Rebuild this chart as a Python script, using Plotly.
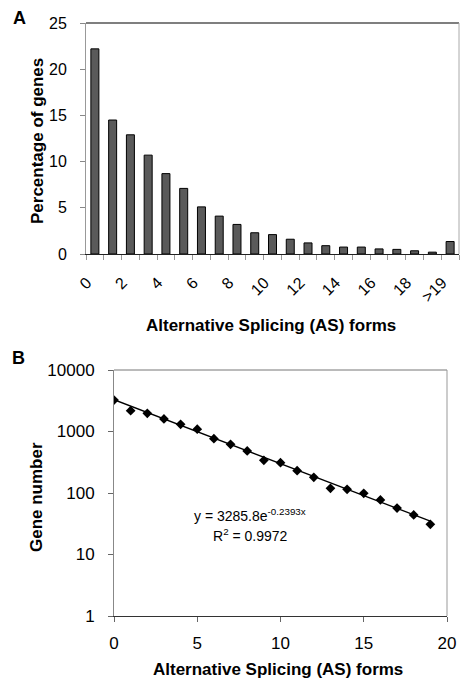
import math
import plotly.graph_objects as go

# ---- Panel A data ----
as_forms_a = list(range(21))
tick_positions_a = [0, 2, 4, 6, 8, 10, 12, 14, 16, 18, 20]
tick_labels_a = ["0", "2", "4", "6", "8", "10", "12", "14", "16", "18", ">19"]
pct_genes = [22.2, 14.5, 12.9, 10.7, 8.7, 7.1, 5.1, 4.1, 3.2, 2.3, 2.1,
             1.6, 1.2, 0.9, 0.75, 0.75, 0.55, 0.5, 0.35, 0.2, 1.35]

# ---- Panel B data ----
as_forms_b = list(range(20))
gene_number = [3250, 2180, 1980, 1600, 1310, 1090, 764, 620, 482, 340, 311,
               231, 180, 119, 115, 99, 77, 57, 44, 31]
fit_a = 3285.8
fit_b = -0.2393
fit_x = [0, 19]

FONT = "Liberation Sans, Arial, sans-serif"
W, H = 460, 680
LABEL_SHIFT = 0.45  # rotated labels sit left of the bar centre, as in Excel


def px(x):
    return x / W


def py(y):
    return 1 - y / H


fig = go.Figure()

fig.add_trace(go.Bar(
    x=as_forms_a, y=pct_genes, width=0.45,
    marker=dict(color="#5a5a5a", line=dict(color="#000000", width=1)),
    xaxis="x", yaxis="y", showlegend=False,
))

fit_y = [fit_a * math.exp(fit_b * xv) for xv in fit_x]
fig.add_trace(go.Scatter(
    x=fit_x, y=fit_y, mode="lines",
    line=dict(color="#000000", width=1.3),
    xaxis="x2", yaxis="y2", showlegend=False,
))
fig.add_trace(go.Scatter(
    x=as_forms_b, y=gene_number, mode="markers",
    marker=dict(symbol="diamond", size=7.5, color="#000000"),
    xaxis="x2", yaxis="y2", showlegend=False,
))

tickfont_a = dict(family=FONT, size=16, color="#000000")
tickfont_b = dict(family=FONT, size=17, color="#000000")


def ann(text, x, y, size=17, angle=0):
    return dict(text=text, x=px(x), y=py(y), xref="paper", yref="paper",
                xanchor="center", yanchor="middle", textangle=angle,
                showarrow=False, font=dict(family=FONT, size=size, color="#000000"))


fig.update_layout(
    width=W, height=H,
    margin=dict(l=0, r=0, t=0, b=0, pad=0),
    paper_bgcolor="white", plot_bgcolor="white",
    font=dict(family=FONT, color="#000000"),
    showlegend=False,
    xaxis=dict(
        domain=[px(86), px(459)], anchor="y", automargin=False,
        range=[-0.5, 20.5], tickmode="array",
        tickvals=[v - LABEL_SHIFT for v in tick_positions_a], ticktext=tick_labels_a,
        tickangle=-45, ticks="", tickfont=tickfont_a,
        ticklabelstandoff=12,
        showline=True, linecolor="#222222", linewidth=1.3,
        showgrid=False, zeroline=False,
        minor=dict(tickmode="array",
                   tickvals=[v - 0.5 for v in as_forms_a] + [20.5],
                   ticks="outside", ticklen=5, tickcolor="#999999", tickwidth=1),
    ),
    yaxis=dict(
        domain=[py(254), py(23)], anchor="x", automargin=False,
        range=[0, 25], tickvals=[0, 5, 10, 15, 20, 25],
        ticks="outside", ticklen=5, tickcolor="#888888",
        tickfont=tickfont_a, ticklabelstandoff=10,
        showline=True, linecolor="#999999", linewidth=1,
        showgrid=False, zeroline=False,
    ),
    xaxis2=dict(
        domain=[px(114), px(447)], anchor="y2", automargin=False,
        range=[0, 20], tickvals=[0, 5, 10, 15, 20],
        ticks="outside", ticklen=5, tickcolor="#666666",
        tickfont=tickfont_b, ticklabelstandoff=6,
        showline=True, linecolor="#333333", linewidth=1.3,
        showgrid=False, zeroline=False,
    ),
    yaxis2=dict(
        domain=[py(616), py(370)], anchor="x2", automargin=False,
        type="log", range=[0, 4], tickvals=[1, 10, 100, 1000, 10000],
        ticktext=["1", "10", "100", "1000", "10000"],
        ticks="outside", ticklen=5, tickcolor="#666666",
        tickfont=tickfont_b, ticklabelstandoff=10,
        showline=True, linecolor="#888888", linewidth=1,
        showgrid=False, zeroline=False,
    ),
    shapes=[
        dict(type="line", xref="x domain", yref="y domain", x0=0, x1=1, y0=1, y1=1,
             line=dict(color="#555555", width=1.3)),
        dict(type="line", xref="x domain", yref="y domain", x0=1, x1=1, y0=0, y1=1,
             line=dict(color="#aaaaaa", width=1)),
        dict(type="line", xref="x2 domain", yref="y2 domain", x0=0, x1=1, y0=1, y1=1,
             line=dict(color="#777777", width=1)),
        dict(type="line", xref="x2 domain", yref="y2 domain", x0=1, x1=1, y0=0, y1=1,
             line=dict(color="#999999", width=1)),
    ],
    annotations=[
        ann("<b>A</b>", 19, 18, size=18),
        ann("<b>B</b>", 18, 358, size=18),
        ann("<b>Percentage of genes</b>", 37, 141, angle=-90),
        ann("<b>Alternative Splicing (AS) forms</b>", 271, 325),
        ann("<b>Gene number</b>", 37, 497, angle=-90),
        ann("<b>Alternative Splicing (AS) forms</b>", 278, 669),
        ann("y = 3285.8e<sup>-0.2393x</sup>", 250, 515, size=14),
        ann("R<sup>2</sup> = 0.9972", 250, 535, size=14),
    ],
)

fig.write_html("out.html", config={"displayModeBar": False},
               post_script="document.body.style.margin='0px';")
